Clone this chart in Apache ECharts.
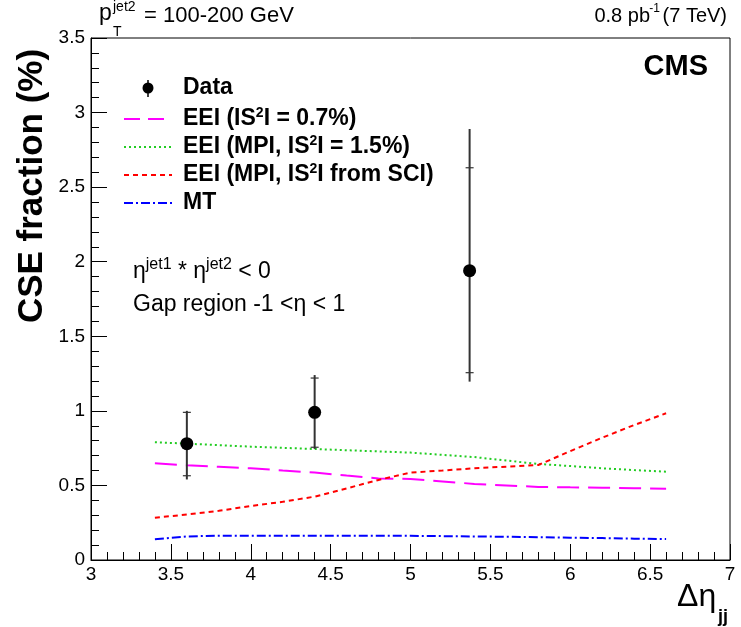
<!DOCTYPE html>
<html>
<head>
<meta charset="utf-8">
<script src="https://cdn.jsdelivr.net/npm/echarts@6/dist/echarts.min.js"></script>
<style>
html,body{margin:0;padding:0;background:#fff;}
#chart{width:741px;height:627px;}
</style>
</head>
<body>
<div id="chart"></div>
<script>
// ---- data ----
var xTicks = [3, 3.5, 4, 4.5, 5, 5.5, 6, 6.5, 7];
var yTicks = [0, 0.5, 1, 1.5, 2, 2.5, 3, 3.5];

var dataX = [3.6, 4.4, 5.37];
var dataY = [0.78, 0.99, 1.94];
var totLow = [0.54, 0.745, 1.196];
var totHigh = [1.0, 1.24, 2.89];
var statLow = [0.565, 0.756, 1.256];
var statHigh = [0.99, 1.22, 2.63];

var curveX = [3.4, 3.6, 3.8, 4.0, 4.2, 4.4, 4.6, 4.8, 5.0, 5.2, 5.4, 5.6, 5.8, 6.0, 6.2, 6.4, 6.6];
var eei07 = [0.648, 0.635, 0.625, 0.615, 0.60, 0.586, 0.566, 0.547, 0.543, 0.527, 0.51, 0.50, 0.49, 0.487, 0.485, 0.481, 0.478];
var eeiMpi15 = [0.79, 0.78, 0.77, 0.76, 0.752, 0.744, 0.736, 0.728, 0.72, 0.705, 0.69, 0.667, 0.644, 0.63, 0.615, 0.603, 0.592];
var eeiSci = [0.284, 0.305, 0.33, 0.362, 0.39, 0.425, 0.48, 0.537, 0.586, 0.60, 0.615, 0.626, 0.637, 0.73, 0.82, 0.905, 0.984];
var mt = [0.139, 0.158, 0.163, 0.162, 0.162, 0.162, 0.162, 0.162, 0.162, 0.16, 0.158, 0.156, 0.153, 0.15, 0.147, 0.143, 0.14];

function zip(xs, ys){ return xs.map(function(x,i){ return [x, ys[i]]; }); }

var errData = dataX.map(function(x,i){ return [x, dataY[i], totLow[i], totHigh[i], statLow[i], statHigh[i]]; });

var FONT = 'Liberation Sans, Arial, Helvetica, sans-serif';

var chart = echarts.init(document.getElementById('chart'), null, {renderer:'canvas'});

function legendLine(y, color, dash){
  return {type:'line', shape:{x1:124, y1:y, x2:172, y2:y}, style:{stroke:color, lineWidth:2, lineDash:dash}, silent:true};
}
function legendText(y, rich){
  return {type:'text', x:183, y:y, style:{text:rich, font:'bold 23px ' + FONT, fill:'#000', textVerticalAlign:'middle',
    rich:{sup:{fontSize:14, fontWeight:'bold', fontFamily:FONT, verticalAlign:'top', lineHeight:26},
          n:{fontSize:23, fontWeight:'bold', fontFamily:FONT, lineHeight:26}}}, silent:true};
}

var option = {
  animation:false,
  backgroundColor:'#fff',
  grid:{left:91, right:11, top:38, bottom:67, show:true, borderColor:'#000', borderWidth:1, backgroundColor:'transparent'},
  xAxis:{
    type:'value', min:3, max:7, interval:0.5,
    axisLine:{show:true, onZero:false, lineStyle:{color:'#000', width:1}},
    axisTick:{show:true, inside:true, length:16, lineStyle:{color:'#000', width:1}},
    minorTick:{show:true, splitNumber:5, length:8, lineStyle:{color:'#000', width:1}},
    splitLine:{show:false},
    axisLabel:{color:'#000', fontSize:19, fontFamily:FONT, margin:5,
      formatter:function(v){ return xTicks.indexOf(v) >= 0 ? String(v) : ''; }}
  },
  yAxis:{
    type:'value', min:0, max:3.5, interval:0.5,
    axisLine:{show:true, onZero:false, lineStyle:{color:'#000', width:1}},
    axisTick:{show:true, inside:true, length:16, lineStyle:{color:'#000', width:1}},
    minorTick:{show:true, splitNumber:5, length:8, lineStyle:{color:'#000', width:1}},
    splitLine:{show:false},
    axisLabel:{color:'#000', fontSize:19, fontFamily:FONT, margin:6,
      formatter:function(v){ return yTicks.indexOf(v) >= 0 ? String(v) : ''; }}
  },
  series:[
    {name:'EEI (|S2| = 0.7%)', type:'line', data:zip(curveX, eei07), showSymbol:false, symbol:'none',
      lineStyle:{color:'#ff00ff', width:2, type:[22,9]}, z:2},
    {name:'EEI (MPI, |S2| = 1.5%)', type:'line', data:zip(curveX, eeiMpi15), showSymbol:false, symbol:'none',
      lineStyle:{color:'#22cc22', width:2, type:[2,3]}, z:2},
    {name:'EEI (MPI, |S2| from SCI)', type:'line', data:zip(curveX, eeiSci), showSymbol:false, symbol:'none',
      lineStyle:{color:'#ff0000', width:2, type:[5,4]}, z:2},
    {name:'MT', type:'line', data:zip(curveX, mt), showSymbol:false, symbol:'none',
      lineStyle:{color:'#0000ff', width:2, type:[9,3,2,3]}, z:2},
    {name:'errors', type:'custom', data:errData, z:3,
      renderItem:function(params, api){
        var x = api.value(0);
        var a = api.coord([x, api.value(2)]);
        var b = api.coord([x, api.value(3)]);
        var s1 = api.coord([x, api.value(4)]);
        var s2 = api.coord([x, api.value(5)]);
        var st = {stroke:'#333', lineWidth:2};
        var tk = {stroke:'#333', lineWidth:1.2};
        return {type:'group', children:[
          {type:'line', shape:{x1:a[0], y1:a[1], x2:b[0], y2:b[1]}, style:st},
          {type:'line', shape:{x1:s1[0]-4, y1:s1[1], x2:s1[0]+4, y2:s1[1]}, style:tk},
          {type:'line', shape:{x1:s2[0]-4, y1:s2[1], x2:s2[0]+4, y2:s2[1]}, style:tk}
        ]};
      }
    },
    {name:'Data', type:'scatter', data:zip(dataX, dataY), symbol:'circle', symbolSize:13,
      itemStyle:{color:'#000', opacity:1}, z:4}
  ],
  graphic:[
    // header
    {type:'text', x:99, y:25, style:{text:'p', font:'23px ' + FONT, fill:'#000', textVerticalAlign:'bottom'}},
    {type:'text', x:113, y:14, style:{text:'jet2', font:'14px ' + FONT, fill:'#000', textVerticalAlign:'bottom'}},
    {type:'text', x:113, y:39, style:{text:'T', font:'14px ' + FONT, fill:'#000', textVerticalAlign:'bottom'}},
    {type:'text', x:144, y:27, style:{text:'= 100-200 GeV', font:'22px ' + FONT, fill:'#000', textVerticalAlign:'bottom'}},
    {type:'text', x:727, y:26, style:{text:'(7 TeV)', font:'20px ' + FONT, fill:'#000', textAlign:'right', textVerticalAlign:'bottom'}},
    {type:'text', x:660, y:15, style:{text:'-1', font:'12px ' + FONT, fill:'#000', textAlign:'right', textVerticalAlign:'bottom'}},
    {type:'text', x:650, y:26, style:{text:'0.8 pb', font:'20px ' + FONT, fill:'#000', textAlign:'right', textVerticalAlign:'bottom'}},
    // CMS
    {type:'text', x:708, y:67, style:{text:'CMS', font:'bold 29px ' + FONT, fill:'#000', textAlign:'right', textVerticalAlign:'middle'}},
    // axis titles
    {type:'text', x:32, y:186, rotation:Math.PI/2, style:{text:'CSE fraction (%)', font:'bold 35px ' + FONT, fill:'#000', textAlign:'center', textVerticalAlign:'middle'}},
    {type:'text', x:677, y:613, style:{text:'Δη', font:'32px ' + FONT, fill:'#000', textVerticalAlign:'bottom'}},
    {type:'text', x:718, y:626, style:{text:'jj', font:'bold 18px ' + FONT, fill:'#000', textVerticalAlign:'bottom'}},
    // legend
    {type:'line', shape:{x1:148, y1:80, x2:148, y2:97}, style:{stroke:'#000', lineWidth:1.5}},
    {type:'circle', shape:{cx:148, cy:88, r:5.5}, style:{fill:'#000'}},
    legendText(88, '{n|Data}'),
    legendLine(119, '#ff00ff', [16,8]),
    legendText(119, '{n|EEI (IS}{sup|2}{n|I = 0.7%)}'),
    legendLine(147, '#22cc22', [2,3]),
    legendText(147, '{n|EEI (MPI, IS}{sup|2}{n|I = 1.5%)}'),
    legendLine(175, '#ff0000', [5,4]),
    legendText(175, '{n|EEI (MPI, IS}{sup|2}{n|I from SCI)}'),
    legendLine(203, '#0000ff', [9,3,2,3]),
    legendText(203, '{n|MT}'),
    // annotations
    {type:'text', x:133, y:272, style:{text:'{n|η}{sup|jet1}{n| * η}{sup|jet2}{n| < 0}', font:'23px ' + FONT, fill:'#000', textVerticalAlign:'middle',
      rich:{n:{fontSize:23, fontFamily:FONT, lineHeight:30}, sup:{fontSize:16, fontFamily:FONT, verticalAlign:'top', lineHeight:30}}}},
    {type:'text', x:133, y:305, style:{text:'Gap region -1 <η < 1', font:'23px ' + FONT, fill:'#000', textVerticalAlign:'middle'}}
  ]
};
chart.setOption(option);
</script>
</body>
</html>
